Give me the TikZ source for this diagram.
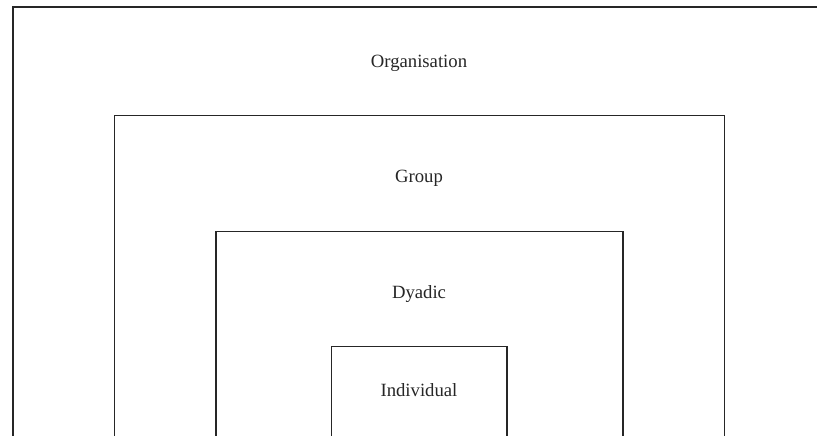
\documentclass[tikz,border=0pt]{standalone}
\usepackage{fontspec}
\setmainfont{Liberation Serif}
\begin{document}
\begin{tikzpicture}[x=1pt,y=-1pt,
  level/.style={draw=black!85, line width=1.6pt, line join=miter},
  label/.style={font=\fontsize{18.7}{20}\selectfont, text=black!85, inner sep=0pt, anchor=center}]
  \useasboundingbox (0,0) rectangle (817,436);
  % Nested levels, open toward the bottom
  \draw[level] (13,440) -- (13,7) -- (830,7);
  \draw[level] (114.5,440) -- (114.5,115.5) -- (724.5,115.5) -- (724.5,440);
  \draw[level] (216,440) -- (216,231.5) -- (623,231.5) -- (623,440);
  \draw[level] (331.5,440) -- (331.5,346.5) -- (507,346.5) -- (507,440);
  % Level names
  \node[label] (org) at (419,63.5) {Organisation};
  \node[label] (grp) at (419,178) {Group};
  \node[label] (dya) at (419,294) {Dyadic};
  \node[label] (ind) at (419,390.5) {Individual};
\end{tikzpicture}
\end{document}
